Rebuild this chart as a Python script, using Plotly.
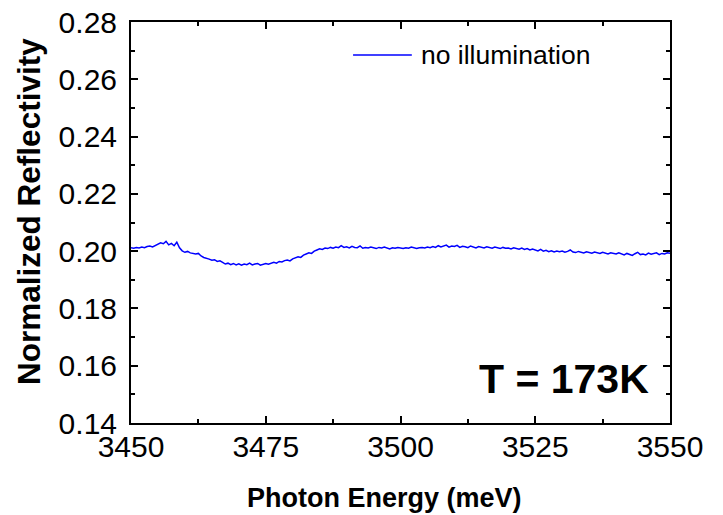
import plotly.graph_objects as go
import numpy as np

# reflectivity, one value every 0.5 meV from 3450 to 3550
reflectivity = [
    0.2012, 0.2010, 0.2013, 0.2011, 0.2014, 0.2012, 0.2016, 0.2018, 0.2015, 0.2020,
    0.2024, 0.2029, 0.2026, 0.2034, 0.2022, 0.2027, 0.2019, 0.2031, 0.2012, 0.2001,
    0.1996, 0.1999, 0.1994, 0.1993, 0.1990, 0.1992, 0.1983, 0.1978, 0.1976, 0.1972,
    0.1968, 0.1970, 0.1964, 0.1966, 0.1961, 0.1955, 0.1958, 0.1953, 0.1957, 0.1952,
    0.1956, 0.1951, 0.1955, 0.1953, 0.1958, 0.1952, 0.1955, 0.1957, 0.1951, 0.1955,
    0.1957, 0.1954, 0.1959, 0.1961, 0.1958, 0.1964, 0.1962, 0.1967, 0.1969, 0.1966,
    0.1973, 0.1976, 0.1980, 0.1978, 0.1986, 0.1990, 0.1994, 0.1992, 0.2000, 0.2004,
    0.2008, 0.2006, 0.2011, 0.2009, 0.2013, 0.2010, 0.2014, 0.2012, 0.2019, 0.2013,
    0.2015, 0.2011, 0.2017, 0.2013, 0.2012, 0.2018, 0.2010, 0.2013, 0.2011, 0.2014,
    0.2012, 0.2009, 0.2013, 0.2011, 0.2014, 0.2010, 0.2008, 0.2012, 0.2010, 0.2013,
    0.2011, 0.2009, 0.2012, 0.2010, 0.2014, 0.2011, 0.2009, 0.2012, 0.2013, 0.2011,
    0.2014, 0.2012, 0.2016, 0.2013, 0.2019, 0.2015, 0.2017, 0.2021, 0.2014, 0.2018,
    0.2016, 0.2020, 0.2013, 0.2017, 0.2015, 0.2012, 0.2018, 0.2014, 0.2011, 0.2016,
    0.2013, 0.2011, 0.2015, 0.2012, 0.2010, 0.2014, 0.2011, 0.2009, 0.2013, 0.2010,
    0.2011, 0.2008, 0.2012, 0.2009, 0.2007, 0.2011, 0.2006, 0.2009, 0.2004, 0.2007,
    0.2005, 0.2001, 0.2006, 0.2000, 0.2003, 0.1998, 0.2001, 0.1997, 0.2000, 0.1998,
    0.2000, 0.1996, 0.1999, 0.2004, 0.1997, 0.1995, 0.1999, 0.1996, 0.1994, 0.1998,
    0.1995, 0.1993, 0.1997, 0.1994, 0.1992, 0.1996, 0.1993, 0.1990, 0.1994, 0.1992,
    0.1990, 0.1994, 0.1991, 0.1987, 0.1992, 0.1989, 0.1985, 0.1991, 0.1996, 0.1988,
    0.1990, 0.1987, 0.1993, 0.1989, 0.1991, 0.1994, 0.1988, 0.1992, 0.1990, 0.1994,
    0.1993,
]
energy = np.linspace(3450, 3550, len(reflectivity))

x_ticks = [3450, 3475, 3500, 3525, 3550]
y_ticks = [0.14, 0.16, 0.18, 0.20, 0.22, 0.24, 0.26, 0.28]
series_name = "no illumination"

font = "Liberation Sans, Arial, sans-serif"

fig = go.Figure()
fig.add_trace(go.Scatter(x=energy, y=reflectivity, mode="lines",
                         line=dict(color="#0000ff", width=1.5),
                         name=series_name, showlegend=False))

axis_common = dict(showline=True, linecolor="black", linewidth=2, mirror="ticks",
                   ticks="inside", ticklen=7, tickwidth=1.5, tickcolor="black",
                   showgrid=False, zeroline=False, automargin=False,
                   tickfont=dict(family=font, size=30, color="black"))

fig.update_xaxes(range=[3450, 3550], tickvals=x_ticks, ticklabelstandoff=-4,
                 minor=dict(ticks="inside", ticklen=4, tickwidth=1.5, dtick=12.5,
                            tick0=3450, tickcolor="black", showgrid=False),
                 **axis_common)
fig.update_yaxes(range=[0.14, 0.28], tickvals=y_ticks, tickformat=".2f",
                 ticklabelstandoff=6,
                 minor=dict(ticks="inside", ticklen=4, tickwidth=1.5, dtick=0.01,
                            tick0=0.14, tickcolor="black", showgrid=False),
                 **axis_common)

# axis titles as annotations, the original has them a little off centre
fig.add_annotation(x=0.471, y=-0.188, xref="paper", yref="paper",
                   xanchor="center", yanchor="middle", showarrow=False,
                   text="<b>Photon Energy (meV)</b>",
                   font=dict(family=font, size=27, color="black"))
fig.add_annotation(x=-0.188, y=0.528, xref="paper", yref="paper",
                   xanchor="center", yanchor="middle", showarrow=False,
                   textangle=-90, text="<b>Normalized Reflectivity</b>",
                   font=dict(family=font, size=31.5, color="black"))

# legend sample drawn by hand so the line is as long as in the original
fig.add_shape(type="line", xref="paper", yref="paper",
              x0=0.412, x1=0.521, y0=0.918, y1=0.918,
              line=dict(color="#0000ff", width=1.5))
fig.add_annotation(x=0.535, y=0.918, xref="paper", yref="paper",
                   xanchor="left", yanchor="middle", showarrow=False,
                   text=series_name,
                   font=dict(family=font, size=26.5, color="black"))

fig.add_annotation(x=0.965, y=0.047, xref="paper", yref="paper",
                   xanchor="right", yanchor="bottom", showarrow=False,
                   text="<b>T = 173K</b>",
                   font=dict(family=font, size=41, color="black"))

fig.update_layout(width=723, height=515,
                  margin=dict(l=131, r=53, t=22, b=92),
                  paper_bgcolor="white", plot_bgcolor="white")

fig.write_html("out.html", config={"displayModeBar": False},
               post_script="document.body.style.margin='0';")
